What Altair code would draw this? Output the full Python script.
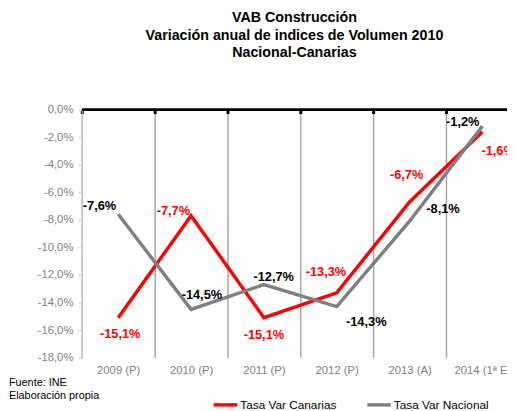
import altair as alt
import pandas as pd

years = ["2009 (P)", "2010 (P)", "2011 (P)", "2012 (P)", "2013 (A)", "2014 (1ª E)"]
canarias = [-15.1, -7.7, -15.1, -13.3, -6.7, -1.6]
nacional = [-7.6, -14.5, -12.7, -14.3, -8.1, -1.2]
series_names = ["Tasa Var Canarias", "Tasa Var Nacional"]
series_colors = ["#ff0000", "#808080"]
label_colors = ["#ff0000", "#000000"]
title_lines = ["VAB Construcción", "Variación anual de indices de Volumen 2010", "Nacional-Canarias"]
footnotes = ["Fuente: INE", "Elaboración propia"]
y_ticks = list(range(-18, 1, 2))

# label placement offsets in pixels (dx, dy) relative to each point
can_off = [(2, 17), (-18, -5), (0, 18), (-11, -21), (-3, -27), (16, 20)]
nac_off = [(-19, -8), (11, -15), (10, -8), (30, 16), (34, -12), (-20, -4)]

FONT = "Liberation Sans"

rows = []
for name, vals in zip(series_names, [canarias, nacional]):
    for yr, v in zip(years, vals):
        rows.append({"year": yr, "serie": name, "value": v,
                     "label": f"{v:.1f}".replace(".", ",") + "%"})
df = pd.DataFrame(rows)

xscale = alt.Scale(type="band", domain=years, paddingInner=0, paddingOuter=0, range=[0, 444])
yscale = alt.Scale(domain=[-18, 0], nice=False, zero=False)

ylabel = "replace(replace(format(datum.value, '.1f'), '.', ','), '\u2212', '-') + '%'"
yaxis = alt.Axis(title=None, values=y_ticks, labelExpr=ylabel, grid=False,
                 domainColor="#cccccc", domainWidth=1, tickColor="#cccccc",
                 tickSize=4, labelPadding=5, labelFontSize=11.5, labelFont=FONT,
                 labelColor="#808080")

lines = alt.Chart(df).mark_line(strokeWidth=3.5).encode(
    x=alt.X("year:N", sort=years, scale=xscale,
            axis=alt.Axis(title=None, orient="bottom", domain=False, ticks=False,
                          labelAngle=0, labelPadding=7, labelFontSize=11.5, labelFont=FONT,
                          labelColor="#808080", grid=True, tickBand="extent",
                          gridColor="#a6a6a6", gridWidth=1.5, labelOverlap=False)),
    y=alt.Y("value:Q", scale=yscale, axis=yaxis),
    color=alt.Color("serie:N", scale=alt.Scale(domain=series_names, range=series_colors),
                    legend=alt.Legend(title=None, orient="none", direction="horizontal",
                                      legendX=132, legendY=286, symbolType="stroke",
                                      symbolStrokeWidth=3.5, symbolSize=576,
                                      labelFontSize=12, labelFont=FONT, labelColor="black",
                                      labelOffset=1, columnPadding=24)),
)

top_rule = alt.Chart(pd.DataFrame({"value": [0]})).mark_rule(color="black", strokeWidth=3).encode(
    y=alt.Y("value:Q", scale=yscale, axis=yaxis)
)

top_ticks = alt.Chart(df).mark_point(opacity=0).encode(
    x=alt.X("year:N", sort=years, scale=xscale,
            axis=alt.Axis(title=None, orient="top", domain=False, labels=False, ticks=True,
                          tickColor="black", tickWidth=3, tickSize=3, tickBand="extent",
                          offset=-4, grid=False)),
    y=alt.Y("value:Q", scale=yscale, axis=yaxis),
)

label_layers = []
for si, (name, offs) in enumerate(zip(series_names, [can_off, nac_off])):
    for yr, (dx, dy) in zip(years, offs):
        label_layers.append(
            alt.Chart(df).transform_filter(
                (alt.datum.serie == name) & (alt.datum.year == yr)
            ).mark_text(font=FONT, fontSize=13, fontWeight="bold", color=label_colors[si],
                        dx=dx, dy=dy, baseline="middle", align="center").encode(
                x=alt.X("year:N", sort=years, scale=xscale, axis=None),
                y=alt.Y("value:Q", scale=yscale, axis=yaxis),
                text="label:N",
            )
        )

foot_df = pd.DataFrame({"t": footnotes, "i": list(range(len(footnotes)))})
foot1 = alt.Chart(foot_df).transform_filter(alt.datum.i == 0).mark_text(
    font=FONT, fontSize=11, align="left", baseline="middle", color="black").encode(
    x=alt.value(-74), y=alt.value(278), text="t:N")
foot2 = alt.Chart(foot_df).transform_filter(alt.datum.i == 1).mark_text(
    font=FONT, fontSize=11, align="left", baseline="middle", color="black").encode(
    x=alt.value(-74), y=alt.value(291), text="t:N")

chart = alt.layer(lines, top_rule, top_ticks, *label_layers, foot1, foot2).resolve_axis(
    x="independent"
).properties(
    width=432, height=252,
    autosize=alt.AutoSizeParams(type="none"),
    padding={"left": 75, "top": 100, "right": 0, "bottom": 51},
    title=alt.TitleParams(title_lines, font=FONT, fontSize=14.5, fontWeight="bold",
                          color="black", anchor="middle", lineHeight=17.5, offset=44),
).configure_view(stroke=None)

chart.save("out.html", embed_options={"renderer": "svg", "actions": False})
